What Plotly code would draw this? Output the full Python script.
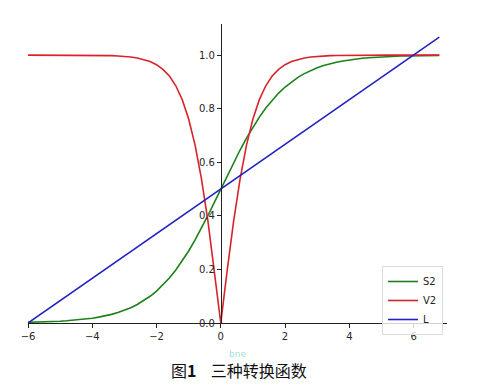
import plotly.graph_objects as go

x_vals = [-6.0, -5.8, -5.6, -5.4, -5.2, -5.0, -4.8, -4.6, -4.4, -4.2,
          -4.0, -3.8, -3.6, -3.4, -3.2, -3.0, -2.8, -2.6, -2.4, -2.2,
          -2.0, -1.8, -1.6, -1.4, -1.2, -1.0, -0.8, -0.6, -0.4, -0.2,
          0.0, 0.2, 0.4, 0.6, 0.8, 1.0, 1.2, 1.4, 1.6, 1.8,
          2.0, 2.2, 2.4, 2.6, 2.8, 3.0, 3.2, 3.4, 3.6, 3.8,
          4.0, 4.2, 4.4, 4.6, 4.8, 5.0, 5.2, 5.4, 5.6, 5.8,
          6.0, 6.2, 6.4, 6.6, 6.8]

s2_vals = [0.0025, 0.0030, 0.0037, 0.0045, 0.0055, 0.0067, 0.0082, 0.0100, 0.0121, 0.0148,
           0.0180, 0.0219, 0.0266, 0.0323, 0.0392, 0.0474, 0.0573, 0.0691, 0.0832, 0.0998,
           0.1192, 0.1419, 0.1680, 0.1978, 0.2315, 0.2689, 0.3100, 0.3543, 0.4013, 0.4502,
           0.5000, 0.5498, 0.5987, 0.6457, 0.6900, 0.7311, 0.7685, 0.8022, 0.8320, 0.8581,
           0.8808, 0.9002, 0.9168, 0.9309, 0.9427, 0.9526, 0.9608, 0.9677, 0.9734, 0.9781,
           0.9820, 0.9852, 0.9879, 0.9900, 0.9918, 0.9933, 0.9945, 0.9955, 0.9963, 0.9970,
           0.9975, 0.9980, 0.9983, 0.9986, 0.9989]

v2_vals = [1.0000, 1.0000, 1.0000, 1.0000, 1.0000, 0.9999, 0.9999, 0.9998, 0.9997, 0.9996,
           0.9993, 0.9990, 0.9985, 0.9978, 0.9967, 0.9951, 0.9926, 0.9890, 0.9837, 0.9757,
           0.9640, 0.9468, 0.9217, 0.8854, 0.8337, 0.7616, 0.6640, 0.5370, 0.3799, 0.1974,
           0.0000, 0.1974, 0.3799, 0.5370, 0.6640, 0.7616, 0.8337, 0.8854, 0.9217, 0.9468,
           0.9640, 0.9757, 0.9837, 0.9890, 0.9926, 0.9951, 0.9967, 0.9978, 0.9985, 0.9990,
           0.9993, 0.9996, 0.9997, 0.9998, 0.9999, 0.9999, 1.0000, 1.0000, 1.0000, 1.0000,
           1.0000, 1.0000, 1.0000, 1.0000, 1.0000]

l_vals = [0.0000, 0.0167, 0.0333, 0.0500, 0.0667, 0.0833, 0.1000, 0.1167, 0.1333, 0.1500,
          0.1667, 0.1833, 0.2000, 0.2167, 0.2333, 0.2500, 0.2667, 0.2833, 0.3000, 0.3167,
          0.3333, 0.3500, 0.3667, 0.3833, 0.4000, 0.4167, 0.4333, 0.4500, 0.4667, 0.4833,
          0.5000, 0.5167, 0.5333, 0.5500, 0.5667, 0.5833, 0.6000, 0.6167, 0.6333, 0.6500,
          0.6667, 0.6833, 0.7000, 0.7167, 0.7333, 0.7500, 0.7667, 0.7833, 0.8000, 0.8167,
          0.8333, 0.8500, 0.8667, 0.8833, 0.9000, 0.9167, 0.9333, 0.9500, 0.9667, 0.9833,
          1.0000, 1.0167, 1.0333, 1.0500, 1.0667]

series_names = ["S2", "V2", "L"]
x_ticks = [-6, -4, -2, 0, 2, 4, 6]
x_tick_text = ["\u22126", "\u22124", "\u22122", "0", "2", "4", "6"]
y_ticks = [0.0, 0.2, 0.4, 0.6, 0.8, 1.0]
y_tick_text = ["0.0", "0.2", "0.4", "0.6", "0.8", "1.0"]
caption = "图<b>1</b>    三种转换函数"
watermark = "bne"

colors = ["#1c801c", "#d8232b", "#2323c2"]

W, H = 500, 392
x_range = [-6.0, 7.04]
y_range = [0.0, 1.116]
xdom = [28 / W, 447 / W]
ydom = [(H - 323) / H, (H - 24) / H]
y_axis_pos = xdom[0] + (0 - x_range[0]) / (x_range[1] - x_range[0]) * (xdom[1] - xdom[0])

fig = go.Figure()
for name, ys, c in zip(series_names, [s2_vals, v2_vals, l_vals], colors):
    fig.add_trace(go.Scatter(x=x_vals, y=ys, mode="lines", name=name,
                             line=dict(color=c, width=1.6)))

tick_font = dict(family="DejaVu Sans", size=10, color="#262626")

fig.update_layout(
    width=W, height=H,
    margin=dict(l=0, r=0, t=0, b=0, autoexpand=False),
    paper_bgcolor="white", plot_bgcolor="white",
    showlegend=True,
    legend=dict(x=382 / W, y=(H - 266) / H, xanchor="left", yanchor="top",
                bgcolor="rgba(255,255,255,0.8)", bordercolor="#dddddd", borderwidth=1,
                font=dict(family="DejaVu Sans", size=10, color="#262626"),
                tracegroupgap=0, itemwidth=30),
    xaxis=dict(domain=xdom, range=x_range, anchor="y", showgrid=False, zeroline=False,
               automargin=False,
               showline=True, linecolor="#222222", linewidth=1,
               ticks="outside", ticklen=4, tickcolor="#222222",
               tickvals=x_ticks, ticktext=x_tick_text, tickfont=tick_font),
    yaxis=dict(domain=ydom, range=y_range, anchor="free", position=y_axis_pos,
               showgrid=False, zeroline=False, automargin=False,
               showline=True, linecolor="#222222", linewidth=1,
               ticks="outside", ticklen=4, tickcolor="#222222",
               tickvals=y_ticks, ticktext=y_tick_text, tickfont=tick_font),
    annotations=[
        dict(text=watermark, xref="paper", yref="paper", x=237 / W, y=(H - 354) / H,
             xanchor="center", yanchor="middle",
             showarrow=False, font=dict(family="DejaVu Sans", size=9, color="#9fe2e2")),
        dict(text=caption, xref="paper", yref="paper", x=239 / W, y=(H - 370) / H,
             xanchor="center", yanchor="middle",
             showarrow=False, font=dict(family="Noto Sans CJK SC", size=16, color="#111111")),
    ],
)

fig.write_html("out.html")
